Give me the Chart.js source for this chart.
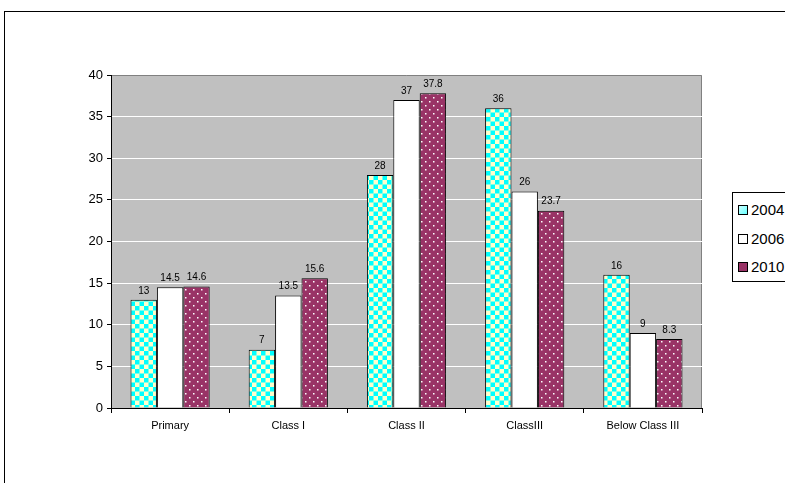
<!DOCTYPE html>
<html>
<head>
<meta charset="utf-8">
<script src="https://cdn.jsdelivr.net/npm/chart.js@4"></script>
<style>
  html, body { margin: 0; padding: 0; background: #fff; overflow: hidden; }
  #wrap { position: relative; width: 785px; height: 483px; }
  #frame { position: absolute; left: 4px; top: 11px; width: 900px; height: 600px; border: 1px solid #000; box-sizing: border-box; }
  canvas { position: absolute; left: 0; top: 0; }
  #legend { position: absolute; left: 732px; top: 192px; width: 120px; height: 90px; border: 1px solid #000; background: #fff;
            font-family: Arial, "Liberation Sans", sans-serif; font-size: 15px; color: #000; box-sizing: border-box; }
  .item { position: absolute; left: 5px; height: 16px; line-height: 16px; white-space: nowrap; }
  .sw { display: inline-block; width: 8px; height: 8px; border: 1px solid #000; vertical-align: 0px; margin-right: 3px; }
</style>
</head>
<body>
<div id="wrap">
  <div id="frame"></div>
  <canvas id="chart" width="785" height="483"></canvas>
  <div id="legend"></div>
</div>
<script>
document.addEventListener('DOMContentLoaded', function () {
  // === Datos ===
  var categorias = ['Primary', 'Class I', 'Class II', 'ClassIII', 'Below Class III'];
  var anios = ['2004', '2006', '2010'];
  var v2004 = [13, 7, 28, 36, 16];
  var v2006 = [14.5, 13.5, 37, 26, 9];
  var v2010 = [14.6, 15.6, 37.8, 23.7, 8.3];
  var ticksY = [0, 5, 10, 15, 20, 25, 30, 35, 40];

  var FONT = 'Arial, "Liberation Sans", sans-serif';

  // === Patrones ===
  function checker() {
    var c = document.createElement('canvas');
    c.width = 9; c.height = 9;
    var g = c.getContext('2d');
    g.fillStyle = '#FFFFCC'; g.fillRect(0, 0, 9, 9);
    g.fillStyle = '#00FFFF';
    g.fillRect(0, 0, 4.5, 4.5);
    g.fillRect(4.5, 4.5, 4.5, 4.5);
    return g.createPattern(c, 'repeat');
  }
  function dots() {
    var c = document.createElement('canvas');
    c.width = 8; c.height = 8;
    var g = c.getContext('2d');
    g.fillStyle = '#993366'; g.fillRect(0, 0, 8, 8);
    g.fillStyle = '#FFFFFF';
    g.fillRect(1, 1, 1.5, 1.5);
    g.fillRect(5, 5, 1.5, 1.5);
    return g.createPattern(c, 'repeat');
  }

  var fills = [checker(), '#FFFFFF', dots()];
  var series = [v2004, v2006, v2010];

  var datasets = anios.map(function (a, i) {
    return {
      label: a,
      data: series[i],
      backgroundColor: fills[i],
      borderColor: '#000',
      borderWidth: 1,
      borderSkipped: 'bottom',
      barPercentage: 1.0,
      categoryPercentage: 0.67
    };
  });

  // fondo gris del area de trazado
  var plotBg = {
    id: 'plotBg',
    beforeDraw: function (chart) {
      var a = chart.chartArea, ctx = chart.ctx;
      ctx.save();
      ctx.fillStyle = '#C0C0C0';
      ctx.fillRect(a.left, a.top, a.right - a.left, a.bottom - a.top);
      ctx.strokeStyle = '#808080';
      ctx.lineWidth = 1;
      ctx.beginPath();
      ctx.moveTo(a.left, a.top + 0.5);
      ctx.lineTo(a.right - 0.5, a.top + 0.5);
      ctx.lineTo(a.right - 0.5, a.bottom);
      ctx.stroke();
      ctx.restore();
    }
  };

  // etiquetas de valores
  var valueLabels = {
    id: 'valueLabels',
    afterDatasetsDraw: function (chart) {
      var ctx = chart.ctx;
      ctx.save();
      ctx.font = '10px ' + FONT;
      ctx.fillStyle = '#000';
      ctx.textAlign = 'center';
      ctx.textBaseline = 'bottom';
      chart.data.datasets.forEach(function (ds, i) {
        chart.getDatasetMeta(i).data.forEach(function (bar, j) {
          ctx.fillText(String(ds.data[j]), bar.x, bar.y - 4);
        });
      });
      ctx.restore();
    }
  };

  new Chart(document.getElementById('chart'), {
    type: 'bar',
    data: { labels: categorias, datasets: datasets },
    plugins: [plotBg, valueLabels],
    options: {
      responsive: false,
      animation: false,
      devicePixelRatio: 1,
      layout: { padding: { left: 0, top: 75, right: 83, bottom: 0 } },
      plugins: { legend: { display: false }, tooltip: { enabled: false } },
      scales: {
        x: {
          afterFit: function (s) { s.height = 75; },
          grid: { offset: true, drawOnChartArea: false, tickColor: '#000', tickLength: 5 },
          border: { color: '#000', width: 1 },
          ticks: { color: '#000', font: { family: FONT, size: 11 }, padding: 6 }
        },
        y: {
          min: 0, max: 40,
          afterFit: function (s) { s.width = 111; },
          afterBuildTicks: function (s) { s.ticks = ticksY.map(function (v) { return { value: v }; }); },
          grid: { color: function (c) { return (c.tick && (c.tick.value === 0 || c.tick.value === 40)) ? 'rgba(0,0,0,0)' : '#FFFFFF'; },
                  tickColor: '#000', tickLength: 4 },
          border: { color: '#000', width: 1 },
          ticks: { color: '#000', font: { family: FONT, size: 13 }, padding: 4 }
        }
      }
    }
  });

  // leyenda
  var leg = document.getElementById('legend');
  var sw = ['linear-gradient(135deg,#CCFFFF,#66FFFF)', '#FFFFFF', '#993366'];
  var ys = [9, 38, 66];
  anios.forEach(function (a, i) {
    var d = document.createElement('div');
    d.className = 'item';
    d.style.top = ys[i] + 'px';
    d.innerHTML = '<span class="sw" style="background:' + sw[i] + '"></span>' + a;
    leg.appendChild(d);
  });
});
</script>
</body>
</html>
